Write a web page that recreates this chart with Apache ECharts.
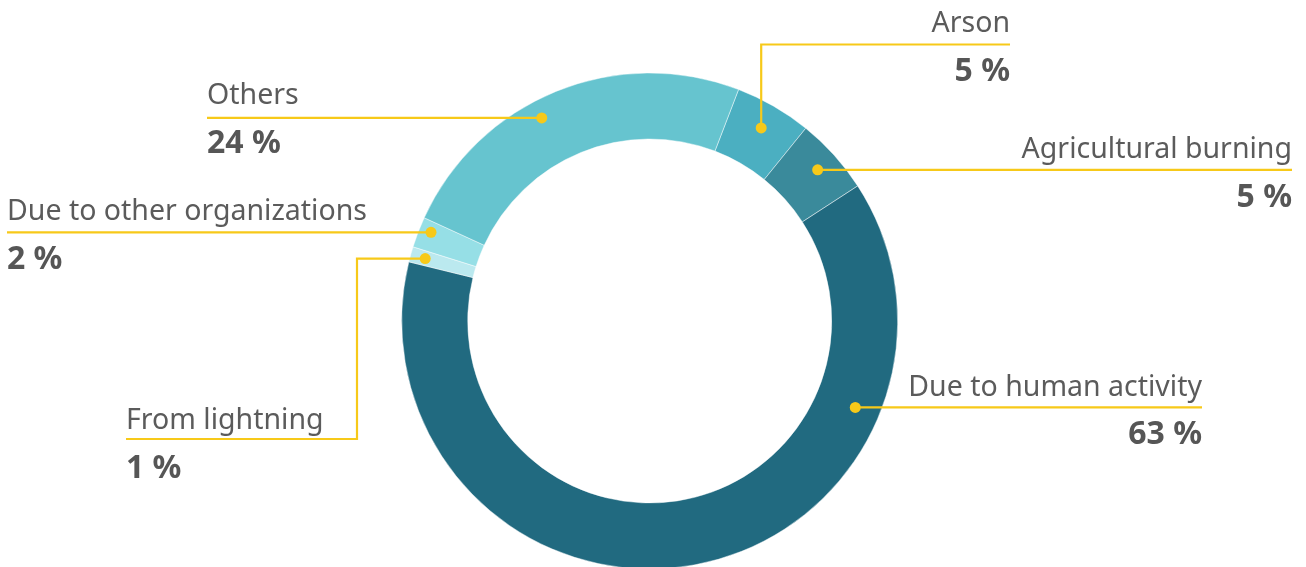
<!DOCTYPE html>
<html>
<head>
<meta charset="utf-8">
<title>Causes of fires</title>
<script src="https://cdn.jsdelivr.net/npm/echarts@6/dist/echarts.min.js"></script>
<style>
  html, body { margin: 0; padding: 0; background: #ffffff; }
  #chart { width: 1306px; height: 567px; }
</style>
</head>
<body>
<div id="chart"></div>
<script>
// Causes and their share of all fires, in percent
const categories = ['Arson', 'Agricultural burning', 'Due to human activity', 'From lightning', 'Due to other organizations', 'Others'];
const shares = [5, 5, 63, 1, 2, 24];
const sliceColors = ['#4bafc1', '#3a8a9b', '#216a80', '#bbe9ef', '#96dfe6', '#66c4cf'];

// Ring geometry (pixels) and orientation
const CX = 649.7, CY = 321, R_IN = 182, R_OUT = 248, START_ANGLE = 69;
const FONT = '"Noto Sans", sans-serif';
const GOLD = '#f7c919';

// Leader line for each slice: where the dot sits inside the slice (fraction of the slice, radius),
// how the line runs to its label, and a small vertical nudge for the label text.
const leaders = [
  { frac: 0.5,   r: 223, kind: 'up',    lineY: 44.5, endX: 1010, side: 'right', dy: 3 },
  { frac: 0.5,   r: 226, kind: 'flat',  endX: 1292, side: 'right', dy: 4 },
  { frac: 0.246, r: 223, kind: 'flat',  endX: 1202, side: 'right', dy: 4 },
  { frac: 0.48,  r: 233, kind: 'elbow', elbowX: 357, lineY: 439, endX: 126, side: 'left', dy: 6 },
  { frac: 0.65,  r: 236, kind: 'flat',  endX: 7,    side: 'left', dy: 4 },
  { frac: 0.433, r: 230, kind: 'flat',  endX: 207,  side: 'left', dy: 2 }
];

const total = shares.reduce((a, b) => a + b, 0);
// Position of each dot along the ring, in the same units as the shares
const anchorValues = shares.map((v, i) => {
  const before = shares.slice(0, i).reduce((a, b) => a + b, 0);
  return before + leaders[i].frac * v;
});

function anchorPixel(i) {
  const deg = START_ANGLE - anchorValues[i] / total * 360;
  const rad = deg * Math.PI / 180;
  const r = leaders[i].r;
  return [CX + r * Math.cos(rad), CY - r * Math.sin(rad)];
}

function leaderPoints(i) {
  const L = leaders[i];
  const p = anchorPixel(i);
  if (L.kind === 'up') return [p, [p[0], L.lineY], [L.endX, L.lineY]];
  if (L.kind === 'elbow') return [p, [L.elbowX, p[1]], [L.elbowX, L.lineY], [L.endX, L.lineY]];
  return [p, [L.endX, p[1]]];
}

const pieData = categories.map((name, i) => ({ name: name, value: shares[i] }));

const chart = echarts.init(document.getElementById('chart'), null, { renderer: 'canvas' });

chart.setOption({
  animation: false,
  backgroundColor: '#ffffff',
  polar: { center: [CX, CY], radius: R_OUT },
  angleAxis: {
    type: 'value', min: 0, max: total, startAngle: START_ANGLE, clockwise: true,
    axisLine: { show: false }, axisTick: { show: false }, axisLabel: { show: false }, splitLine: { show: false }
  },
  radiusAxis: {
    type: 'value', min: 0, max: R_OUT,
    axisLine: { show: false }, axisTick: { show: false }, axisLabel: { show: false }, splitLine: { show: false }
  },
  series: [
    // The coloured ring
    {
      type: 'pie',
      z: 2,
      center: [CX, CY],
      radius: [R_IN, R_OUT],
      startAngle: START_ANGLE,
      clockwise: true,
      silent: true,
      label: { show: false },
      labelLine: { show: false },
      itemStyle: { borderColor: 'rgba(255,255,255,0.45)', borderWidth: 1 },
      data: pieData.map((d, i) => ({ name: d.name, value: d.value, itemStyle: { color: sliceColors[i] } }))
    },
    // Same slices, transparent, carrying the labels and leader lines on top of the ring
    {
      type: 'pie',
      z: 4,
      center: [CX, CY],
      radius: [R_IN, R_OUT],
      startAngle: START_ANGLE,
      clockwise: true,
      avoidLabelOverlap: false,
      silent: true,
      itemStyle: { color: 'rgba(0,0,0,0)', borderWidth: 0 },
      data: pieData,
      label: {
        show: true,
        position: 'outside',
        formatter: p => '{n|' + p.name + '}\n{v|' + p.value + ' %}',
        rich: {
          n: { fontFamily: FONT, fontSize: 28.5, color: '#5b5b5b', lineHeight: 48 },
          v: { fontFamily: FONT, fontSize: 32, fontWeight: 'bold', color: '#565656', lineHeight: 48 }
        }
      },
      labelLine: { show: true, smooth: false, lineStyle: { color: GOLD, width: 2.2 } },
      labelLayout: function (params) {
        const i = params.dataIndex;
        const L = leaders[i];
        const pts = leaderPoints(i);
        const lineY = pts[pts.length - 1][1];
        return {
          x: L.endX,
          y: lineY + L.dy,
          align: L.side === 'right' ? 'right' : 'left',
          verticalAlign: 'middle',
          labelLinePoints: pts
        };
      }
    },
    // Dots at the start of each leader line
    {
      type: 'scatter',
      coordinateSystem: 'polar',
      symbol: 'circle',
      symbolSize: 11,
      silent: true,
      z: 6,
      itemStyle: { color: GOLD, opacity: 1 },
      data: anchorValues.map((v, i) => [leaders[i].r, v])
    }
  ]
});
</script>
</body>
</html>
